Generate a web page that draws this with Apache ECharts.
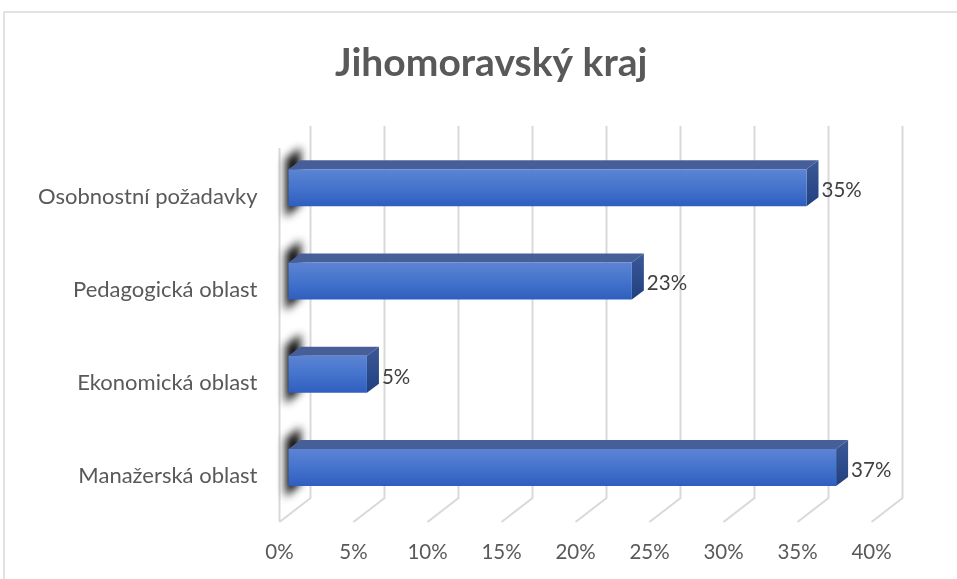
<!DOCTYPE html>
<html>
<head>
<meta charset="utf-8">
<script src="https://cdn.jsdelivr.net/npm/echarts@6/dist/echarts.min.js"></script>
<style>
  html, body { margin: 0; padding: 0; background: #fff; }
  #main { width: 957px; height: 579px; }
</style>
</head>
<body>
<div id="main"></div>
<script>
// data (bottom to top, as the category axis counts)
var categories = ['Manažerská oblast', 'Ekonomická oblast', 'Pedagogická oblast', 'Osobnostní požadavky'];
var values = [37, 5.3, 23.2, 35];
var xTicks = [0, 5, 10, 15, 20, 25, 30, 35, 40];

var FONT = 'Lato';
var GRID_COLOR = '#d9d9d9';
// 3D offsets (px)
var BACK_DX = 31, BACK_DY = -24;   // back wall vs front plane
var BAR_DX = 9, BAR_DY = -9;       // bar front face vs front plane
var DEPTH_DX = 12, DEPTH_DY = -9;  // bar depth
var BAR_H = 37;
var SHIFT = 3000;                  // shadow-only trick: shape off canvas, shadow pulled back

var myChart = echarts.init(document.getElementById('main'));

function renderGrid(params, api) {
  var v = api.value(0);
  var cs = params.coordSys;
  var x = api.coord([v, 0])[0];
  var bottom = cs.y + cs.height - 1;
  var top = cs.y;
  var children = [{
    type: 'polyline',
    shape: { points: [[x, bottom], [x + BACK_DX, bottom + BACK_DY], [x + BACK_DX, top + BACK_DY]] },
    style: { stroke: GRID_COLOR, lineWidth: 2, fill: null }
  }];
  if (v === 0) {
    children.push({
      type: 'line',
      shape: { x1: x, y1: top - 2, x2: x, y2: bottom },
      style: { stroke: GRID_COLOR, lineWidth: 2 }
    });
  }
  return { type: 'group', children: children };
}

function renderBar(params, api) {
  var idx = api.value(0);
  var val = api.value(1);
  var p0 = api.coord([0, idx]);
  var p1 = api.coord([val, idx]);
  var x0 = p0[0] + BAR_DX, x1 = p1[0] + BAR_DX;
  var cy = p0[1] + BAR_DY;
  var y0 = cy - BAR_H / 2, y1 = cy + BAR_H / 2;
  var sx = x0 - SHIFT;
  return {
    type: 'group',
    children: [
      { // soft shadow on the left wall
        type: 'polygon',
        shape: { points: [[sx - 3, y0 - 10], [sx + 12, y0 - 22], [sx + 12, y1 - 2], [sx - 3, y1 + 11]] },
        style: { fill: '#000', shadowBlur: 9, shadowColor: 'rgba(0,0,0,0.95)', shadowOffsetX: SHIFT }
      },
      { // top face
        type: 'polygon',
        shape: { points: [[x0, y0], [x1, y0], [x1 + DEPTH_DX, y0 + DEPTH_DY], [x0 + DEPTH_DX, y0 + DEPTH_DY]] },
        style: { fill: '#475f98' }
      },
      { // right face
        type: 'polygon',
        shape: { points: [[x1, y0], [x1 + DEPTH_DX, y0 + DEPTH_DY], [x1 + DEPTH_DX, y1 + DEPTH_DY], [x1, y1]] },
        style: {
          fill: new echarts.graphic.LinearGradient(0, 0, 0, 1, [
            { offset: 0, color: '#3b5897' },
            { offset: 1, color: '#22407f' }
          ])
        }
      },
      { // front face
        type: 'rect',
        shape: { x: x0, y: y0, width: x1 - x0, height: BAR_H },
        style: {
          fill: new echarts.graphic.LinearGradient(0, 0, 0, 1, [
            { offset: 0, color: '#5d84d4' },
            { offset: 0.5, color: '#4474cc' },
            { offset: 1, color: '#2f5ebf' }
          ])
        }
      },
      {
        type: 'text',
        style: {
          x: x1 + DEPTH_DX + 3, y: cy + 3,
          text: Math.round(val) + '%',
          fill: '#404040', font: '20.5px ' + FONT,
          align: 'left', verticalAlign: 'middle'
        }
      }
    ]
  };
}

var option = {
  animation: false,
  backgroundColor: '#fff',
  title: {
    text: 'Jihomoravský kraj',
    left: 330,
    top: 39,
    textStyle: { fontFamily: FONT, fontSize: 39, fontWeight: 'bold', color: '#595959' }
  },
  graphic: [{
    type: 'rect',
    shape: { x: 4, y: 12, width: 1200, height: 1200 },
    style: { fill: null, stroke: '#d9d9d9', lineWidth: 1.5 },
    silent: true
  }],
  grid: { left: 279.5, top: 150, width: 592, height: 373 },
  xAxis: {
    type: 'value',
    min: 0,
    max: 40,
    interval: 5,
    axisLine: { show: false },
    axisTick: { show: false },
    splitLine: { show: false },
    axisLabel: { formatter: '{value}%', color: '#595959', fontSize: 20.5, fontFamily: FONT, margin: 19 }
  },
  yAxis: {
    type: 'category',
    data: categories,
    axisLine: { show: false },
    axisTick: { show: false },
    axisLabel: { color: '#595959', fontSize: 22, fontFamily: FONT, margin: 22 }
  },
  series: [
    {
      type: 'custom',
      renderItem: renderGrid,
      data: xTicks.map(function (t) { return [t]; }),
      encode: { x: 0 },
      z: 1,
      silent: true
    },
    {
      type: 'custom',
      renderItem: renderBar,
      data: values.map(function (v, i) { return [i, v]; }),
      encode: { y: 0, x: 1 },
      z: 2,
      silent: true
    }
  ]
};

myChart.setOption(option, true);
</script>
</body>
</html>
